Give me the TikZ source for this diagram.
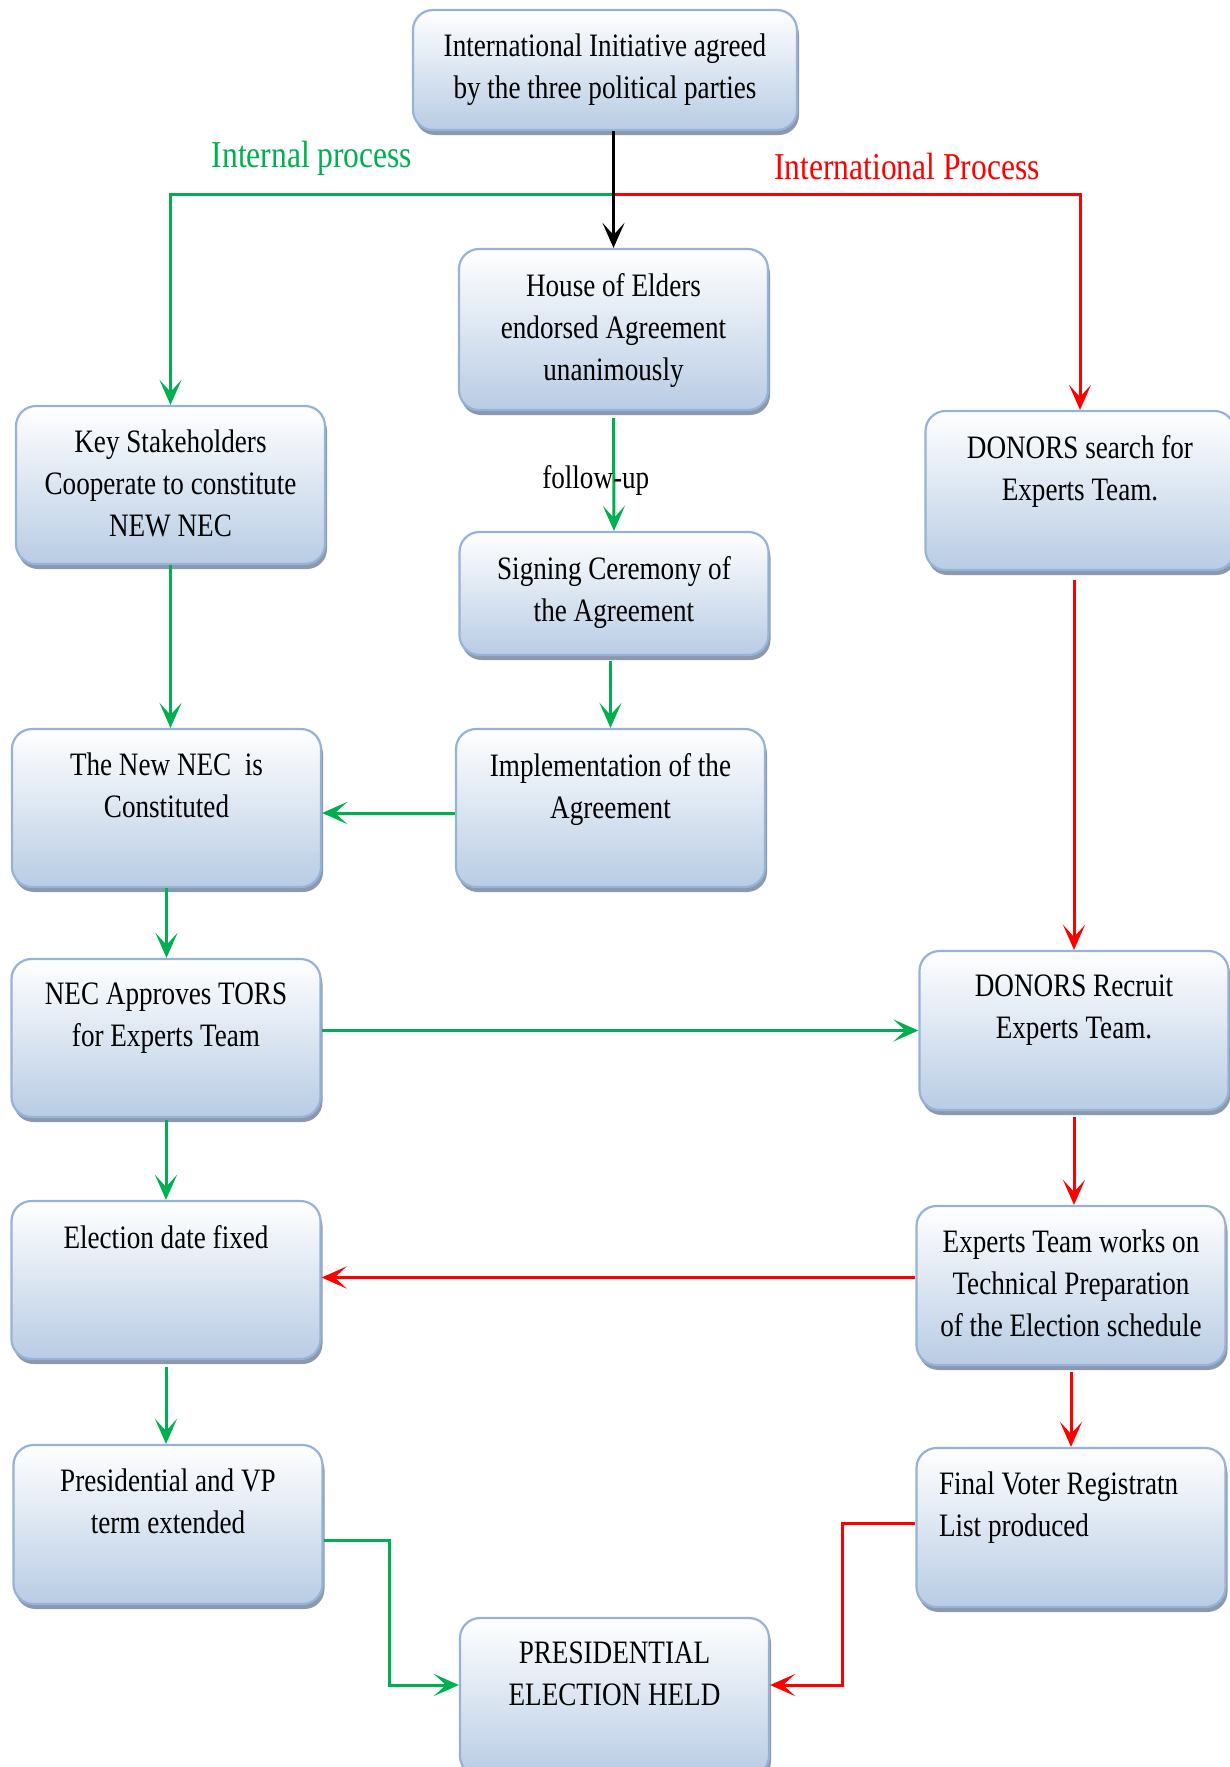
\documentclass[tikz,border=0pt]{standalone}
\usepackage{fontspec}
\setmainfont[FakeStretch=0.83]{Liberation Serif}
\usetikzlibrary{arrows.meta,shadows}

\definecolor{boxedge}{RGB}{149,179,215}
\definecolor{boxfill}{RGB}{184,204,228}
\definecolor{boxshade}{RGB}{140,152,172}
\definecolor{ingreen}{RGB}{0,176,80}
\definecolor{exred}{RGB}{255,0,0}

\newcommand{\stagetext}[3][280]{\parbox[c][#2pt][t]{#1pt}{\centering\vspace*{24pt}#3}}

\tikzset{
  stage/.style={draw=boxedge, line width=2.2pt, rounded corners=20pt,
    top color=white, bottom color=boxfill, inner sep=0pt, minimum width=309pt,
    drop shadow={shadow xshift=2pt, shadow yshift=-5pt, fill=boxshade, opacity=1}},
  flow/.style={line width=3pt, -{Stealth[length=25pt, width=22pt, inset=12pt]}},
  inflow/.style={flow, draw=ingreen},
  exflow/.style={flow, draw=exred},
  sidelabel/.style={font=\fontsize{38pt}{44pt}\selectfont}
}

\begin{document}
\begin{tikzpicture}[x=1pt, y=-1pt, font=\fontsize{32.7pt}{42pt}\selectfont]
    \useasboundingbox (0,0) rectangle (1230,1767);

    \node[stage, minimum width=384pt] (agree) at (605,70)
        {\stagetext[360]{120}{International Initiative agreed\\by the three political parties}};
    \node[stage] (elders) at (613.5,329.5) {\stagetext{161}{House of Elders\\endorsed Agreement\\unanimously}};
    \node[stage] (keyholders) at (170.5,485) {\stagetext{158}{Key Stakeholders\\Cooperate to constitute\\NEW NEC}};
    \node[stage] (donorsearch) at (1080,490.5) {\stagetext{159}{DONORS search for\\Experts Team.}};
    \node[stage] (signing) at (614,593.5) {\stagetext{123}{Signing Ceremony of\\the Agreement}};
    \node[stage] (newnec) at (166.5,808) {\stagetext{158}{The New NEC~ is\\Constituted}};
    \node[stage] (implement) at (610.5,808) {\stagetext{158}{Implementation of the\\Agreement}};
    \node[stage] (tors) at (166,1038) {\stagetext{158}{NEC Approves TORS\\for Experts Team}};
    \node[stage] (recruit) at (1074,1030.5) {\stagetext{159}{DONORS Recruit\\Experts Team.}};
    \node[stage] (datefixed) at (166,1280) {\stagetext{158}{Election date fixed}};
    \node[stage] (techprep) at (1071,1285.5) {\stagetext{159}{Experts Team works on\\Technical Preparation\\of the Election schedule}};
    \node[stage] (termext) at (168,1524.5) {\stagetext{159}{Presidential and VP\\term extended}};
    \node[stage] (voterlist) at (1071,1527.5)
        {\parbox[c][159pt][t]{264pt}{\raggedright\vspace*{24pt}Final Voter Registratn\\List produced}};
    \node[stage] (held) at (614.5,1697) {\stagetext{158}{PRESIDENTIAL\\ELECTION HELD}};

    \node[sidelabel, text=ingreen] (inlabel) at (312,158) {Internal process};
    \node[sidelabel, text=exred] (exlabel) at (907,166) {International Process};

    \coordinate (split) at (613.5,194);
    \draw[inflow] (split) -| (keyholders.north);
    \draw[exflow] (split) -| (donorsearch.north);
    \draw[flow, draw=black] (elders.north |- agree.south) -- (elders.north);

    \draw[inflow] ([yshift=-7pt]elders.south) -- (signing.north)
        node[pos=0.55, xshift=-18pt, text=black] (followup) {follow-up};
    \draw[inflow] ([yshift=-5pt]implement.north |- signing.south) -- (implement.north);
    \draw[inflow] ([yshift=-5pt]implement.west) -- ([yshift=-5pt]newnec.east);
    \draw[inflow] (keyholders.south) -- (keyholders.south |- newnec.north);
    \draw[inflow] (newnec.south) -- (newnec.south |- tors.north);
    \draw[inflow] (recruit.west -| tors.east) -- (recruit.west);
    \draw[inflow] ([yshift=-2pt]tors.south) -- (datefixed.north);
    \draw[inflow] ([yshift=-7pt]datefixed.south) -- (datefixed.south |- termext.north);
    \draw[inflow] ([yshift=-16pt]termext.east) -- ++(66,0) |- ([yshift=12pt]held.west);

    \draw[exflow] ([yshift=-9pt]recruit.north |- donorsearch.south) -- (recruit.north);
    \draw[exflow] ([yshift=-6pt]recruit.south) -- (recruit.south |- techprep.north);
    \draw[exflow] ([yshift=8pt]techprep.west) -- ([yshift=8pt]techprep.west -| datefixed.east);
    \draw[exflow] ([yshift=-6pt]voterlist.north |- techprep.south) -- (voterlist.north);
    \draw[exflow] ([yshift=4pt]voterlist.west) -- ++(-73,0) |- ([yshift=12pt]held.east);
\end{tikzpicture}
\end{document}
